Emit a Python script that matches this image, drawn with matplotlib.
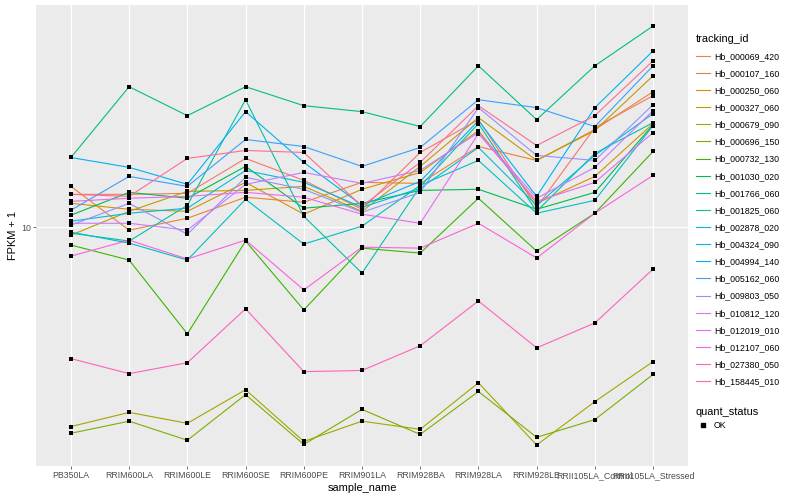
import matplotlib.pyplot as plt
import numpy as np
from matplotlib.lines import Line2D
from matplotlib.ticker import NullLocator

samples = ["PB350LA", "RRIM600LA", "RRIM600LE", "RRIM600SE", "RRIM600PE", "RRIM901LA",
           "RRIM928BA", "RRIM928LA", "RRIM928LE", "RRII105LA_Control", "RRII105LA_Stressed"]

tracking_ids = ["Hb_000069_420", "Hb_000107_160", "Hb_000250_060", "Hb_000327_060",
                "Hb_000679_090", "Hb_000696_150", "Hb_000732_130", "Hb_001030_020",
                "Hb_001766_060", "Hb_001825_060", "Hb_002878_020", "Hb_004324_090",
                "Hb_004994_140", "Hb_005162_060", "Hb_009803_050", "Hb_010812_120",
                "Hb_012019_010", "Hb_012107_060", "Hb_027380_050", "Hb_158445_010"]

# FPKM per sample (same order as samples)
hb_000069_420 = [11.09, 11.09, 11.16, 13.88, 12.11, 10.09, 14.40, 17.62, 10.22, 16.78, 20.38]
hb_000107_160 = [11.66, 8.83, 9.53, 10.89, 10.55, 11.96, 11.88, 14.94, 13.71, 16.58, 20.88]
hb_000250_060 = [10.48, 10.09, 9.96, 11.96, 9.78, 11.45, 12.72, 16.48, 10.48, 12.41, 17.20]
hb_000327_060 = [8.55, 9.96, 11.30, 11.37, 11.66, 9.96, 13.21, 17.84, 13.71, 16.48, 22.99]
hb_000679_090 = [2.16, 2.43, 2.22, 2.91, 1.90, 2.26, 2.11, 3.07, 1.84, 2.65, 3.60]
hb_000696_150 = [2.04, 2.26, 1.92, 2.80, 1.85, 2.49, 2.02, 2.87, 1.97, 2.29, 3.27]
hb_000732_130 = [8.02, 7.27, 4.40, 8.23, 5.20, 7.86, 7.61, 10.82, 7.71, 9.84, 14.49]
hb_001030_020 = [9.72, 11.23, 10.82, 13.21, 10.16, 10.48, 11.37, 11.45, 10.09, 11.23, 17.09]
hb_001766_060 = [13.96, 21.52, 18.05, 21.52, 19.18, 18.50, 16.89, 24.41, 17.62, 24.41, 30.99]
hb_001825_060 = [8.66, 8.23, 10.35, 19.89, 9.65, 6.67, 11.66, 17.20, 9.96, 14.31, 17.30]
hb_002878_020 = [8.72, 8.12, 7.27, 10.75, 8.07, 9.06, 11.74, 13.71, 9.84, 10.68, 16.99]
hb_004324_090 = [9.35, 9.84, 10.16, 12.88, 11.96, 10.22, 11.52, 14.85, 10.35, 14.14, 18.28]
hb_004994_140 = [13.96, 13.13, 11.81, 18.50, 13.54, 10.35, 12.03, 17.51, 10.95, 18.95, 26.70]
hb_005162_060 = [10.03, 12.41, 11.66, 15.60, 14.94, 13.21, 14.85, 19.89, 18.95, 16.89, 24.41]
hb_009803_050 = [9.12, 10.48, 8.60, 12.34, 11.45, 9.90, 11.23, 18.95, 14.14, 13.71, 19.30]
hb_010812_120 = [9.23, 9.23, 8.83, 11.81, 12.72, 11.88, 12.88, 16.28, 10.82, 13.13, 18.61]
hb_012019_010 = [10.61, 10.82, 10.95, 11.23, 10.89, 9.78, 9.23, 16.18, 10.61, 11.96, 16.28]
hb_012107_060 = [7.46, 8.28, 7.32, 8.28, 5.96, 7.91, 7.86, 9.23, 7.37, 9.84, 12.49]
hb_027380_050 = [3.68, 3.29, 3.57, 5.24, 3.34, 3.37, 4.04, 5.53, 3.98, 4.75, 6.85]
hb_158445_010 = [11.09, 10.95, 13.88, 14.58, 14.40, 10.29, 13.54, 19.18, 15.03, 18.05, 25.15]

series = [hb_000069_420, hb_000107_160, hb_000250_060, hb_000327_060, hb_000679_090,
          hb_000696_150, hb_000732_130, hb_001030_020, hb_001766_060, hb_001825_060,
          hb_002878_020, hb_004324_090, hb_004994_140, hb_005162_060, hb_009803_050,
          hb_010812_120, hb_012019_010, hb_012107_060, hb_027380_050, hb_158445_010]

# ggplot hue palette, 20 levels
colors = ["#F8766D", "#EA8331", "#D89000", "#C09B00", "#A3A500", "#7CAE00", "#39B600",
          "#00BB4E", "#00BF7D", "#00C1A3", "#00BFC4", "#00BAE0", "#00B0F6", "#35A2FF",
          "#9590FF", "#C77CFF", "#E76BF3", "#FA62DB", "#FF62BC", "#FF6C91"]

plt.rcParams['font.family'] = ['Liberation Sans', 'DejaVu Sans']

fig = plt.figure(figsize=(8, 5), dpi=100)
ax = fig.add_axes([0.045, 0.068, 0.815, 0.922])
ax.set_facecolor("#EBEBEB")

x = np.arange(len(samples))
for vals, col in zip(series, colors):
    y = np.array(vals) + 1
    ax.plot(x, y, color=col, lw=0.8, zorder=2)
for vals in series:
    y = np.array(vals) + 1
    ax.scatter(x, y, marker='s', s=8, color='black', linewidths=0, zorder=3)

# log scale, 5% expansion like ggplot
allv = np.log10(np.array(series) + 1)
lo, hi = allv.min(), allv.max()
pad = 0.05 * (hi - lo)
ax.set_yscale('log')
ax.set_ylim(10 ** (lo - pad), 10 ** (hi + pad))
ax.set_yticks([10])
ax.set_yticklabels(['10'])
ax.yaxis.set_minor_locator(NullLocator())
ax.set_xlim(-0.6, len(samples) - 0.4)
ax.set_xticks(x)
ax.set_xticklabels(samples)

ax.grid(True, color='white', lw=0.9, zorder=0)
ax.set_axisbelow(True)
for s in ax.spines.values():
    s.set_visible(False)
ax.tick_params(length=2.0, width=0.5, color='#333333', labelcolor='#4D4D4D',
               labelsize=6.3, pad=1.5)

ax.set_xlabel('sample_name', fontsize=7.9, labelpad=2)
ax.set_ylabel('FPKM + 1', fontsize=7.9, labelpad=2)

# legends
handles = [Line2D([], [], color=c, lw=0.8) for c in colors]
leg1 = fig.legend(handles, tracking_ids, loc='upper left', bbox_to_anchor=(0.862, 0.945),
                  frameon=False, fontsize=6.3, title='tracking_id', title_fontsize=7.9,
                  handlelength=1.6, handletextpad=0.5, labelspacing=0.93, alignment='left',
                  borderpad=0.2)
pt = [Line2D([], [], marker='s', color='black', ls='', markersize=2.6)]
leg2 = fig.legend(pt, ['OK'], loc='upper left', bbox_to_anchor=(0.862, 0.198),
                  frameon=False, fontsize=6.3, title='quant_status', title_fontsize=7.9,
                  handlelength=1.6, handletextpad=0.5, alignment='left', borderpad=0.2)

plt.savefig('out.png', dpi=100)
